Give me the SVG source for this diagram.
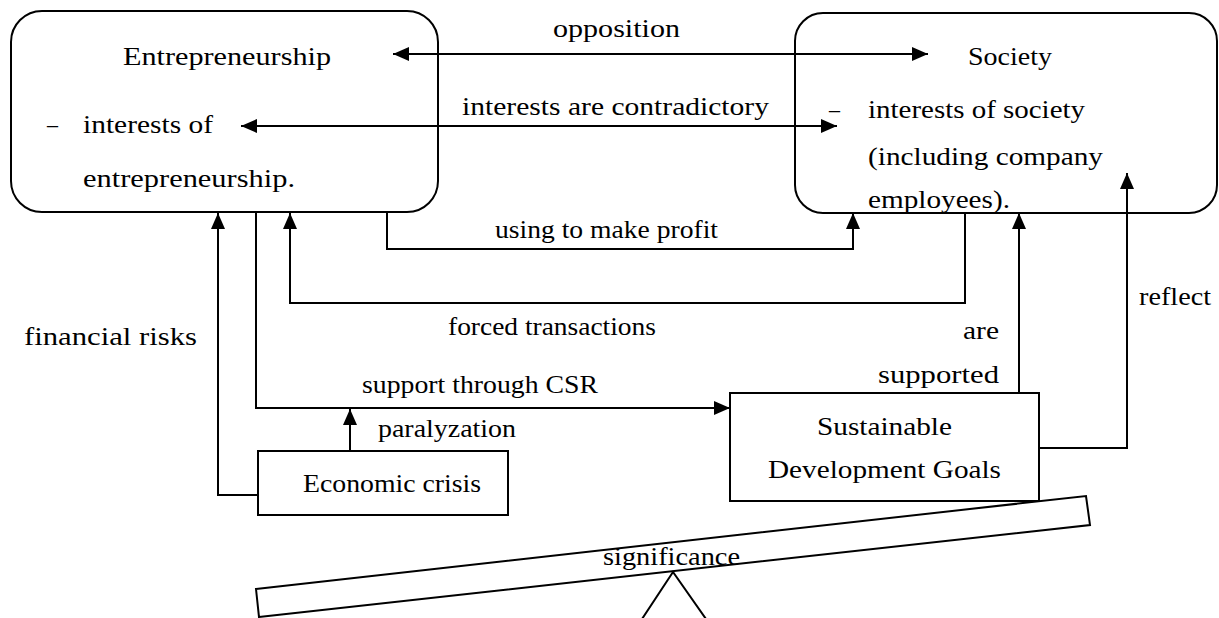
<svg xmlns="http://www.w3.org/2000/svg" width="1219" height="618" viewBox="0 0 1219 618">
<style>
.box{fill:#fff;stroke:#000;stroke-width:2}
.ln{fill:none;stroke:#000;stroke-width:2}
text{font-family:"Liberation Serif","Times New Roman",serif;font-size:26px;fill:#000}
</style>
<defs>
<marker id="ah" viewBox="0 0 16 14" refX="16" refY="7" markerWidth="16" markerHeight="14" markerUnits="userSpaceOnUse" orient="auto-start-reverse">
<path d="M0,0 L16,7 L0,14 z" fill="#000"/>
</marker>
</defs>
<rect width="1219" height="618" fill="#fff"/>
<g id="beam">
<polygon class="box" points="256,589 1086,496 1090,525 259,617"/>
<polygon class="box" points="673,572 642,619 706,619"/>
<text x="603" y="565" textLength="137" lengthAdjust="spacingAndGlyphs">significance</text>
</g>
<g id="entrepreneurship">
<rect class="box" x="11" y="11" width="427" height="201" rx="31"/>
<text x="123" y="65" textLength="208" lengthAdjust="spacingAndGlyphs">Entrepreneurship</text>
<text x="47" y="133" textLength="11" lengthAdjust="spacingAndGlyphs">–</text>
<text x="83" y="133" textLength="130" lengthAdjust="spacingAndGlyphs">interests of</text>
<text x="83" y="187" textLength="212" lengthAdjust="spacingAndGlyphs">entrepreneurship.</text>
</g>
<g id="society">
<rect class="box" x="795" y="13" width="422" height="200" rx="28"/>
<text x="968" y="65" textLength="84" lengthAdjust="spacingAndGlyphs">Society</text>
<text x="829" y="118" textLength="11" lengthAdjust="spacingAndGlyphs">–</text>
<text x="868" y="118" textLength="217" lengthAdjust="spacingAndGlyphs">interests of society</text>
<text x="868" y="165" textLength="235" lengthAdjust="spacingAndGlyphs">(including company</text>
<text x="868" y="208" textLength="142" lengthAdjust="spacingAndGlyphs">employees).</text>
</g>
<g id="sdg">
<rect class="box" x="730" y="393" width="309" height="108"/>
<text x="817" y="435" textLength="135" lengthAdjust="spacingAndGlyphs">Sustainable</text>
<text x="768" y="478" textLength="233" lengthAdjust="spacingAndGlyphs">Development Goals</text>
</g>
<g id="crisis">
<rect class="box" x="258" y="451" width="250" height="64"/>
<text x="303" y="492" textLength="178" lengthAdjust="spacingAndGlyphs">Economic crisis</text>
</g>
<g id="connectors">
<line class="ln" x1="393" y1="54" x2="928" y2="54" marker-start="url(#ah)" marker-end="url(#ah)"/>
<line class="ln" x1="241" y1="126" x2="837" y2="126" marker-start="url(#ah)" marker-end="url(#ah)"/>
<polyline class="ln" points="387,212 387,249 853,249 853,213" marker-end="url(#ah)"/>
<polyline class="ln" points="965,213 965,303 290,303 290,213" marker-end="url(#ah)"/>
<polyline class="ln" points="256,212 256,408 730,408" marker-end="url(#ah)"/>
<line class="ln" x1="350" y1="451" x2="350" y2="409" marker-end="url(#ah)"/>
<polyline class="ln" points="258,495 218,495 218,213" marker-end="url(#ah)"/>
<line class="ln" x1="1019" y1="393" x2="1019" y2="213" marker-end="url(#ah)"/>
<polyline class="ln" points="1039,448 1127,448 1127,173" marker-end="url(#ah)"/>
</g>
<g id="labels">
<text x="553" y="37" textLength="127" lengthAdjust="spacingAndGlyphs">opposition</text>
<text x="462" y="115" textLength="307" lengthAdjust="spacingAndGlyphs">interests are contradictory</text>
<text x="495" y="238" textLength="223" lengthAdjust="spacingAndGlyphs">using to make profit</text>
<text x="448" y="335" textLength="208" lengthAdjust="spacingAndGlyphs">forced transactions</text>
<text x="362" y="393" textLength="236" lengthAdjust="spacingAndGlyphs">support through CSR</text>
<text x="378" y="437" textLength="138" lengthAdjust="spacingAndGlyphs">paralyzation</text>
<text x="24" y="345" textLength="173" lengthAdjust="spacingAndGlyphs">financial risks</text>
<text x="963" y="339" textLength="36" lengthAdjust="spacingAndGlyphs">are</text>
<text x="878" y="383" textLength="121" lengthAdjust="spacingAndGlyphs">supported</text>
<text x="1139" y="305" textLength="72" lengthAdjust="spacingAndGlyphs">reflect</text>
</g>
</svg>
